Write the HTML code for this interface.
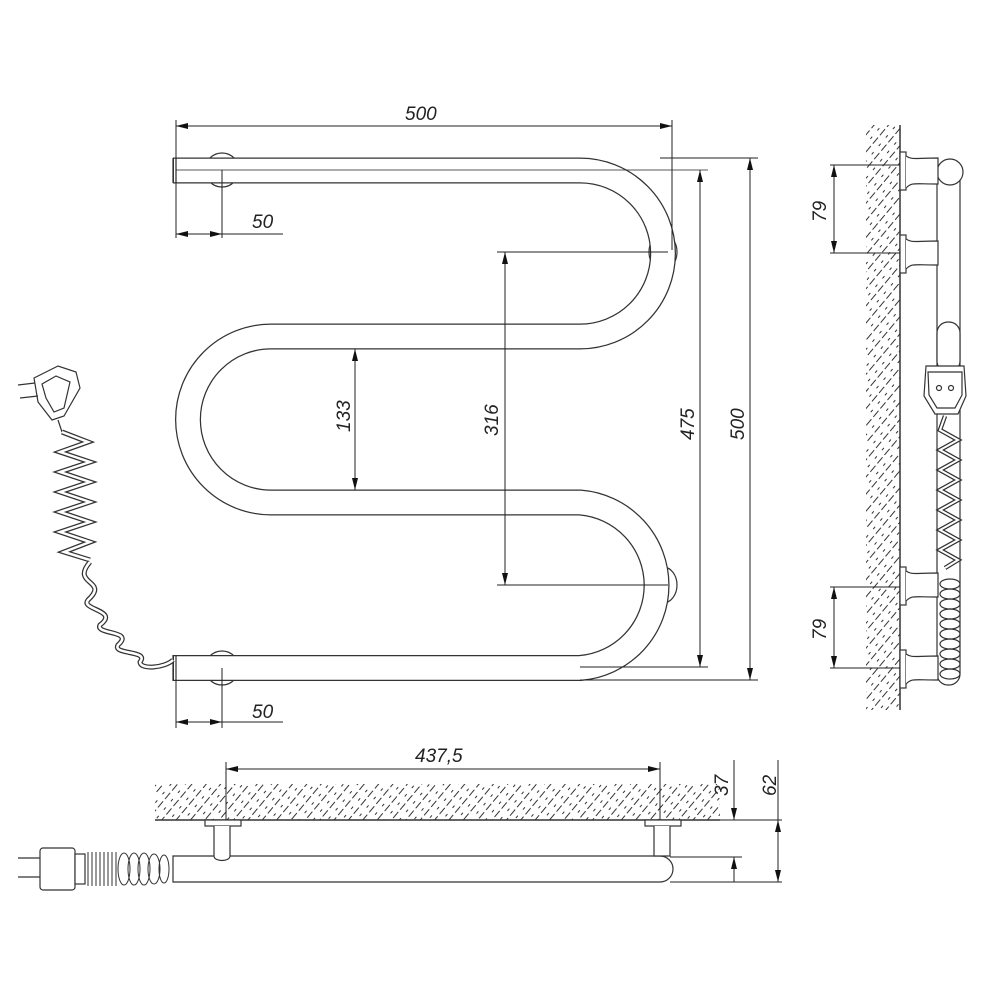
<!DOCTYPE html>
<html><head><meta charset="utf-8"><style>
html,body{margin:0;padding:0;background:#fff}
svg{display:block}
text{font-family:"Liberation Sans",sans-serif;font-style:italic;font-size:19px;fill:#222}
</style></head><body>
<svg width="1000" height="1000" viewBox="0 0 1000 1000" xmlns="http://www.w3.org/2000/svg">
<defs>
<marker id="a" viewBox="0 0 12 6" refX="12" refY="3" markerWidth="12" markerHeight="6" orient="auto-start-reverse" markerUnits="userSpaceOnUse"><path d="M0,0 L12,3 L0,6 z" fill="#111"/></marker>
<pattern id="h" width="11" height="11" patternUnits="userSpaceOnUse" patternTransform="rotate(-50)">
<line x1="0" y1="2" x2="8" y2="2" stroke="#333" stroke-width="1"/><line x1="2" y1="8" x2="5" y2="8" stroke="#333" stroke-width="1"/>
</pattern>
</defs>
<g fill="none" stroke="#333" stroke-width="1.2">
<circle cx="222" cy="170" r="17" fill="#fff"/>
<circle cx="222" cy="668" r="17" fill="#fff"/>
<ellipse cx="663" cy="252" rx="14" ry="18" fill="#fff"/>
<ellipse cx="663" cy="585" rx="14" ry="18" fill="#fff"/>
</g>
<path d="M173,170.5 H580 A83,83 0 0 1 580,336.5 H271 A83,83 0 0 0 271,502.5 H580 A83,83 0 0 1 580,668 H173" fill="none" stroke="#333" stroke-width="26"/>
<path d="M174,170.5 H580 A83,83 0 0 1 580,336.5 H271 A83,83 0 0 0 271,502.5 H580 A83,83 0 0 1 580,668 H174" fill="none" stroke="#fff" stroke-width="23.5"/>
<g stroke="#333" stroke-width="1.2" fill="none">
<line x1="173" y1="158" x2="173" y2="183"/><line x1="173" y1="655" x2="173" y2="681"/>
<line x1="176" y1="158" x2="176" y2="183"/><line x1="176" y1="655" x2="176" y2="681"/>
</g>
<g stroke="#222" stroke-width="1" fill="none">
<line x1="176" y1="120" x2="176" y2="238"/><line x1="672" y1="120" x2="672" y2="250"/>
<line x1="176" y1="126" x2="672" y2="126" marker-start="url(#a)" marker-end="url(#a)"/>
<line x1="222" y1="170" x2="222" y2="238"/><line x1="176" y1="170" x2="708" y2="170" stroke-width="0.8"/>
<line x1="176" y1="234" x2="222" y2="234" marker-start="url(#a)" marker-end="url(#a)"/><line x1="222" y1="234" x2="283" y2="234"/>
<line x1="700" y1="170" x2="700" y2="667" marker-start="url(#a)" marker-end="url(#a)"/>
<line x1="580" y1="667" x2="708" y2="667"/>
<line x1="660" y1="158" x2="758" y2="158"/><line x1="580" y1="680" x2="758" y2="680"/>
<line x1="750" y1="158" x2="750" y2="680" marker-start="url(#a)" marker-end="url(#a)"/>
<line x1="497" y1="252" x2="668" y2="252"/><line x1="497" y1="585" x2="668" y2="585"/>
<line x1="505" y1="252" x2="505" y2="585" marker-start="url(#a)" marker-end="url(#a)"/>
<line x1="355" y1="349" x2="355" y2="490" marker-start="url(#a)" marker-end="url(#a)"/>
<line x1="176" y1="680" x2="176" y2="728"/><line x1="222" y1="668" x2="222" y2="728"/>
<line x1="176" y1="722" x2="222" y2="722" marker-start="url(#a)" marker-end="url(#a)"/><line x1="222" y1="722" x2="283" y2="722"/>
</g>
<text x="405" y="120">500</text>
<text x="252" y="228">50</text>
<text x="252" y="718">50</text>
<text transform="translate(350,432) rotate(-90)">133</text>
<text transform="translate(498,436) rotate(-90)">316</text>
<text transform="translate(694,440) rotate(-90)">475</text>
<text transform="translate(744,440) rotate(-90)">500</text>
<g stroke="#333" stroke-width="1.2" fill="#fff">
<path d="M34,378 L58,366 L76,372 L80,388 L64,416 L52,420 L38,402 z"/>
<path d="M42,384 L56,376 L70,382 L64,408 L54,412 L46,398 z" fill="none"/>
<line x1="18" y1="385" x2="35" y2="383"/><line x1="20" y1="398" x2="38" y2="396"/>
<path d="M58,420 L62,432" fill="none"/>
<path d="M62,432 L88,442 L60,452 L90,462 L60,472 L90,482 L60,492 L90,502 L60,512 L90,522 L60,532 L90,542 L64,552 L90,560" fill="none" stroke-width="5"/>
<path d="M62,432 L88,442 L60,452 L90,462 L60,472 L90,482 L60,492 L90,502 L60,512 L90,522 L60,532 L90,542 L64,552 L90,560" fill="none" stroke="#fff" stroke-width="2.5"/>
<path d="M90,562 C70,585 110,580 88,600 C80,610 120,610 100,625 C95,635 135,630 118,645 C112,655 150,650 140,662 C140,670 165,668 173,660" fill="none" stroke-width="5"/>
<path d="M90,562 C70,585 110,580 88,600 C80,610 120,610 100,625 C95,635 135,630 118,645 C112,655 150,650 140,662 C140,670 165,668 173,660" fill="none" stroke="#fff" stroke-width="2.5"/>
</g>
<rect x="866" y="125" width="34" height="585" fill="url(#h)"/>
<line x1="900" y1="125" x2="900" y2="710" stroke="#333" stroke-width="1.5"/>
<g stroke="#333" stroke-width="1.2" fill="#fff">
<rect x="937" y="165" width="23" height="520" rx="11"/>
<circle cx="950" cy="172" r="13"/>
<rect x="900" y="152" width="6" height="38"/><path d="M906,156 C912,160 914,158 938,158 L938,184 C914,184 912,182 906,188"/>
<rect x="900" y="235" width="6" height="38"/><path d="M906,239 C912,243 914,241 938,241 L938,265 C914,265 912,263 906,269"/>
<rect x="900" y="567" width="6" height="38"/><path d="M906,571 C912,575 914,573 938,573 L938,597 C914,597 912,595 906,601"/>
<rect x="900" y="650" width="6" height="38"/><path d="M906,654 C912,658 914,656 938,656 L938,680 C914,680 912,678 906,684"/>
<rect x="937" y="322" width="23" height="50" rx="11"/>
<path d="M926,366 L964,366 L966,396 L958,414 L935,414 L924,396 z"/>
<path d="M928,372 L962,372 L962,395 L955,408 L937,408 L929,395 z" fill="none"/>
<circle cx="939" cy="388" r="2.5" fill="none"/><circle cx="951" cy="388" r="2.5" fill="none"/>
<path d="M945,416 L940,430 L958,440 L940,450 L958,460 L940,470 L958,480 L940,490 L958,500 L940,510 L958,520 L940,530 L958,540 L940,550 L958,560 L945,568" fill="none" stroke-width="4.5"/>
<path d="M945,416 L940,430 L958,440 L940,450 L958,460 L940,470 L958,480 L940,490 L958,500 L940,510 L958,520 L940,530 L958,540 L940,550 L958,560 L945,568" fill="none" stroke="#fff" stroke-width="2"/>
</g>
<g stroke="#333" stroke-width="1.2" fill="none">
<ellipse cx="950" cy="584" rx="10" ry="5"/><ellipse cx="950" cy="594" rx="10" ry="5"/><ellipse cx="950" cy="604" rx="10" ry="5"/><ellipse cx="950" cy="614" rx="10" ry="5"/><ellipse cx="950" cy="624" rx="10" ry="5"/><ellipse cx="950" cy="634" rx="10" ry="5"/><ellipse cx="950" cy="644" rx="10" ry="5"/><ellipse cx="950" cy="654" rx="10" ry="5"/><ellipse cx="950" cy="664" rx="10" ry="5"/><ellipse cx="950" cy="674" rx="10" ry="5"/>
</g>
<g stroke="#222" stroke-width="1" fill="none">
<line x1="830" y1="165" x2="900" y2="165"/><line x1="830" y1="253" x2="900" y2="253"/>
<line x1="834" y1="165" x2="834" y2="253" marker-start="url(#a)" marker-end="url(#a)"/>
<line x1="830" y1="587" x2="900" y2="587"/><line x1="830" y1="668" x2="900" y2="668"/>
<line x1="834" y1="587" x2="834" y2="668" marker-start="url(#a)" marker-end="url(#a)"/>
</g>
<text transform="translate(826,222) rotate(-90)">79</text>
<text transform="translate(826,640) rotate(-90)">79</text>
<rect x="155" y="784" width="565" height="36" fill="url(#h)"/>
<line x1="155" y1="820" x2="720" y2="820" stroke="#333" stroke-width="1.5"/>
<g stroke="#222" stroke-width="1" fill="none">
<line x1="226" y1="762" x2="226" y2="822"/><line x1="660" y1="762" x2="660" y2="822"/>
<line x1="226" y1="769" x2="660" y2="769" marker-start="url(#a)" marker-end="url(#a)"/>
<line x1="720" y1="820" x2="782" y2="820"/><line x1="670" y1="857" x2="742" y2="857"/><line x1="670" y1="882" x2="782" y2="882"/>
<line x1="734" y1="760" x2="734" y2="820" marker-end="url(#a)"/><line x1="734" y1="882" x2="734" y2="857" marker-end="url(#a)"/>
<line x1="778" y1="820" x2="778" y2="882" marker-start="url(#a)" marker-end="url(#a)"/>
<line x1="778" y1="760" x2="778" y2="820"/>
</g>
<text x="415" y="762">437,5</text>
<text transform="translate(728,796) rotate(-90)">37</text>
<text transform="translate(776,796) rotate(-90)">62</text>
<g stroke="#333" stroke-width="1.2" fill="#fff">
<path d="M173,856 H660 A13,13 0 0 1 660,882 H173 z"/>
<rect x="205" y="820" width="36" height="6"/><path d="M214,826 V856 C214,862 230,862 230,856 V826"/>
<rect x="645" y="820" width="36" height="6"/><path d="M654,826 V856 H670 V826"/>
<rect x="40" y="848" width="35" height="42" rx="3"/>
<line x1="18" y1="858" x2="40" y2="858"/><line x1="18" y1="877" x2="40" y2="877"/>
<rect x="75" y="854" width="10" height="30"/>
</g>
<g stroke="#333" stroke-width="1" fill="none">
<path d="M88,852 v34 M92,852 v34 M96,852 v34 M100,852 v34 M104,852 v34 M108,852 v34 M112,852 v34 M116,852 v34"/>
<ellipse cx="124" cy="869" rx="6" ry="16"/><ellipse cx="134" cy="869" rx="6" ry="16"/><ellipse cx="144" cy="869" rx="6" ry="16"/><ellipse cx="154" cy="869" rx="6" ry="15"/><ellipse cx="164" cy="869" rx="5" ry="14"/>
</g>
</svg>
</body></html>
